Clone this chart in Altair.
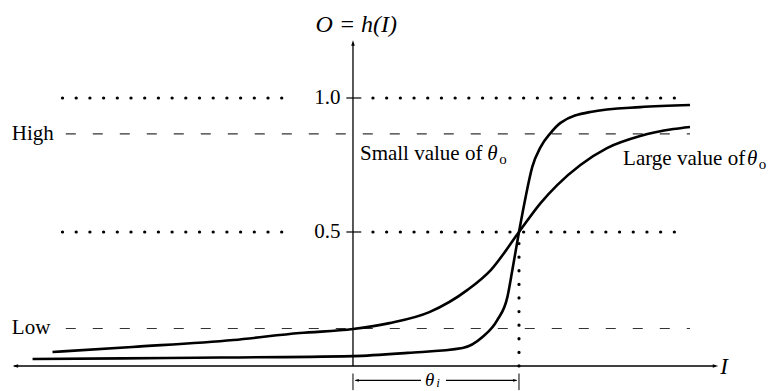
import altair as alt
import pandas as pd

# ---- data (x in units of theta_i, y = output O) ----
large_x = [-1.81, -1.33, -0.72, -0.32, 0.0, 0.22, 0.46, 0.69, 0.83, 1.0, 1.13, 1.23, 1.37, 1.53, 1.73, 1.93, 2.03]
large_y = [0.052, 0.071, 0.097, 0.123, 0.138, 0.160, 0.201, 0.284, 0.358, 0.5, 0.608, 0.675, 0.750, 0.813, 0.858, 0.884, 0.892]
small_x = [-1.93, -1.12, 0.0, 0.33, 0.66, 0.78, 0.87, 0.93, 0.96, 1.0, 1.04, 1.08, 1.13, 1.19, 1.25, 1.43, 1.73, 2.03]
small_y = [0.026, 0.030, 0.037, 0.049, 0.067, 0.108, 0.172, 0.257, 0.358, 0.5, 0.631, 0.743, 0.817, 0.869, 0.907, 0.948, 0.966, 0.974]
tick_values = [1.0, 0.5]
tick_labels = ["1.0", "0.5"]
level_names = ["High", "Low"]
level_values = [0.866, 0.14]
curve_labels = ["Small value of", "Large value of"]
theta_i = 1.0

XD = [-2.078, 2.530]
YD = [-0.0933, 1.3358]
xs = alt.Scale(domain=XD, nice=False, zero=False)
ys = alt.Scale(domain=YD, nice=False, zero=False)
W, H = 765, 383
FONT = "Liberation Serif"
FS = 21


def X(field):
    return alt.X(field, type="quantitative", scale=xs, axis=None)


def Y(field):
    return alt.Y(field, type="quantitative", scale=ys, axis=None)


curves = pd.DataFrame(
    [{"x": a, "y": b, "s": "large", "o": i} for i, (a, b) in enumerate(zip(large_x, large_y))]
    + [{"x": a, "y": b, "s": "small", "o": i} for i, (a, b) in enumerate(zip(small_x, small_y))]
)
curve_layer = alt.Chart(curves).mark_line(color="black", strokeWidth=2.6, interpolate="monotone").encode(
    x=X("x"), y=Y("y"), detail="s:N", order="o:Q"
)

# dotted reference lines at 1.0 and 0.5 (broken for labels)
dots = pd.DataFrame(
    [{"x": -1.75, "x2": -0.37, "y": v} for v in tick_values]
    + [{"x": 0.12, "x2": 2.0, "y": v} for v in tick_values]
)
dot_layer = alt.Chart(dots).mark_rule(color="black", strokeWidth=3.2, strokeDash=[0.1, 13.6], strokeCap="round").encode(
    x=X("x"), x2="x2", y=Y("y")
)
vdot = pd.DataFrame([{"x": theta_i, "y": 0.0, "y2": 0.5}])
vdot_layer = alt.Chart(vdot).mark_rule(color="black", strokeWidth=3.2, strokeDash=[0.1, 13.5], strokeCap="round").encode(
    x=X("x"), y=Y("y"), y2="y2"
)

# dashed High / Low lines
dash = pd.DataFrame([{"x": -1.73, "x2": 2.03, "xl": -2.055, "y": v, "lab": n} for v, n in zip(level_values, level_names)])
dash_layer = alt.Chart(dash).mark_rule(color="#333", strokeWidth=1.1, strokeDash=[10, 17]).encode(
    x=X("x"), x2="x2", y=Y("y")
)
dash_text = alt.Chart(dash).mark_text(font=FONT, fontSize=FS, align="left", baseline="middle", color="black").encode(
    x=X("xl"), y=Y("y"), text="lab:N"
)

# tick marks on y-axis and labels
ticks = pd.DataFrame({"y": tick_values, "lab": tick_labels, "a": [-0.04] * 2, "b": [0.05] * 2, "xl": [-0.075] * 2})
tick_layer = alt.Chart(ticks).mark_rule(color="black", strokeWidth=1.2).encode(
    x=X("a"), x2="b", y=Y("y")
)
tick_text = alt.Chart(ticks).mark_text(font=FONT, fontSize=FS, align="right", baseline="middle", color="black").encode(
    x=X("xl"), y=Y("y"), text="lab:N"
)

# axes
axes = pd.DataFrame([
    {"x": -2.04, "x2": 2.18, "y": 0.0, "y2": 0.0},
    {"x": 0.0, "x2": 0.0, "y": 0.0, "y2": 1.205},
])
axes_layer = alt.Chart(axes).mark_rule(color="black", strokeWidth=1.3).encode(
    x=X("x"), x2="x2", y=Y("y"), y2="y2"
)
shape_l = "M0,0L1,-0.33L1,0.33Z"
shape_r = "M0,0L-1,-0.33L-1,0.33Z"
shape_u = "M0,0L-0.33,1L0.33,1Z"


def head(xv, yv, shape, size):
    df = pd.DataFrame([{"x": xv, "y": yv}])
    return alt.Chart(df).mark_point(shape=shape, filled=True, color="black", opacity=1, size=size, strokeWidth=0).encode(
        x=X("x"), y=Y("y")
    )


def txt(xv, yv, t, size, align="center", style="normal", baseline="alphabetic"):
    df = pd.DataFrame([{"x": xv, "y": yv, "t": t}])
    return alt.Chart(df).mark_text(font=FONT, fontSize=size, align=align, baseline=baseline,
                                   fontStyle=style, color="black").encode(
        x=X("x"), y=Y("y"), text="t:N"
    )


# theta_i bracket
brk = pd.DataFrame([{"x": 0.0, "y": -0.028, "y2": -0.09}, {"x": theta_i, "y": -0.028, "y2": -0.09}])
brk_layer = alt.Chart(brk).mark_rule(color="black", strokeWidth=1).encode(
    x=X("x"), y=Y("y"), y2="y2"
)
ARR_Y = -0.054
arr = pd.DataFrame([
    {"x": 0.015, "x2": 0.41, "y": ARR_Y},
    {"x": 0.56, "x2": 0.985, "y": ARR_Y},
])
arr_layer = alt.Chart(arr).mark_rule(color="black", strokeWidth=1.2).encode(
    x=X("x"), x2="x2", y=Y("y")
)

chart = alt.layer(
    dash_layer, dash_text, dot_layer, vdot_layer, tick_layer, tick_text,
    axes_layer,
    head(-2.05, 0.0, shape_l, 120), head(2.2, 0.0, shape_r, 120), head(0.0, 1.215, shape_u, 120),
    curve_layer,
    brk_layer, arr_layer,
    head(0.01, ARR_Y, shape_l, 70), head(0.99, ARR_Y, shape_r, 70),
    # axis titles
    txt(0.02, 1.272, "O = h(I)", 24, style="italic", baseline="middle"),
    txt(2.235, -0.005, "I", 23, style="italic", baseline="middle"),
    txt(0.462, ARR_Y, "θ", 19, style="italic", baseline="middle"),
    txt(0.513, -0.064, "i", 13, style="italic", baseline="middle"),
    # curve labels
    txt(0.042, 0.769, curve_labels[0], FS, align="left"),
    txt(0.840, 0.769, "θ", FS, style="italic"),
    txt(0.903, 0.754, "o", 15),
    txt(1.627, 0.750, curve_labels[1], FS, align="left"),
    txt(2.404, 0.750, "θ", FS, style="italic"),
    txt(2.467, 0.735, "o", 15),
).properties(
    width=W, height=H, padding=0, autosize=alt.AutoSizeParams(type="none")
).configure_view(stroke=None)

chart.save("out.html", embed_options={"renderer": "svg", "actions": False})
